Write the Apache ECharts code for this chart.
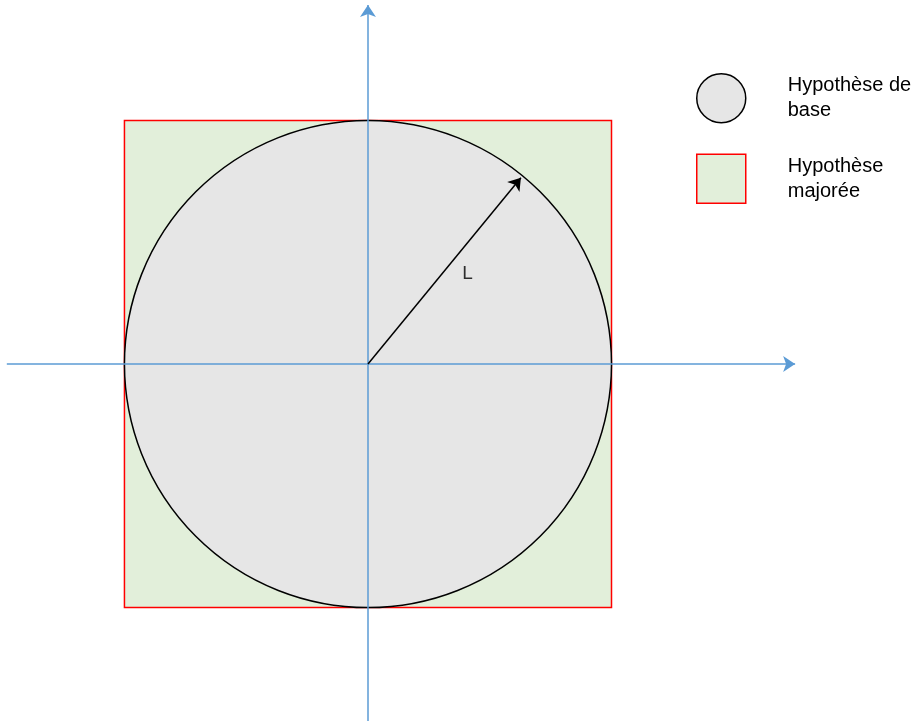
<!DOCTYPE html>
<html>
<head>
<meta charset="utf-8">
<script src="https://cdn.jsdelivr.net/npm/echarts@6/dist/echarts.min.js"></script>
<style>
  html, body { margin: 0; padding: 0; background: #fff; }
  #main { width: 922px; height: 721px; }
</style>
</head>
<body>
<div id="main"></div>
<script>
"use strict"
// data, in units of L (centre of the figure at 0,0)
var legendNames = ['Hypothèse de base', 'Hypothèse majorée'];
var legendLabels = ['Hypothèse de\nbase', 'Hypothèse\nmajorée'];
var circleRadius = [[1]];
var squareHalfSide = [[1]];
var horizAxisLine = [[-1.483, 0], [1.754, 0]];
var vertAxisLine = [[0, -1.47], [0, 1.474]];
var radiusArrow = [[0, 0], [0.628, 0.765]];
var radiusLabel = [[0.409, 0.37, 'L']];

// based on prepared DOM, initialize echarts instance
var myChart = echarts.init(document.getElementById('main'));

var option = {
	animation: false,
	grid: { left: 0, right: 0, top: 0, bottom: 0 },
	xAxis: { type: 'value', min: -1.511, max: 2.275, show: false },
	yAxis: { type: 'value', min: -1.466, max: 1.495, show: false },
	legend: {
		orient: 'vertical',
		left: 696,
		top: 73,
		padding: 0,
		itemWidth: 49,
		itemHeight: 49,
		itemGap: 30,
		selectedMode: false,
		formatter: function (name) {
			return legendLabels[legendNames.indexOf(name)];
		},
		textStyle: {
			fontFamily: 'Liberation Sans',
			fontSize: 20,
			lineHeight: 25,
			color: '#000',
			padding: [0, 0, 0, 37]
		},
		data: [
			{ name: legendNames[0], icon: 'circle',
			  itemStyle: { color: '#e6e6e6', borderColor: '#000', borderWidth: 1.5 } },
			{ name: legendNames[1], icon: 'rect',
			  itemStyle: { color: '#e2efda', borderColor: '#ff0000', borderWidth: 1.5 } }
		]
	},
	series: [
	{
		name: legendNames[1],
		type: 'custom',
		data: squareHalfSide,
		renderItem: function (params, api) {
			var c = api.coord([0, 0]);
			var h = api.size([api.value(0), api.value(0)])[0];
			return {
				type: 'rect',
				shape: { x: c[0] - h, y: c[1] - h, width: 2 * h, height: 2 * h },
				style: { fill: '#e2efda', stroke: '#ff0000', lineWidth: 1.5 }
			};
		},
		z: 1
	},
	{
		name: legendNames[0],
		type: 'custom',
		data: circleRadius,
		renderItem: function (params, api) {
			var c = api.coord([0, 0]);
			var r = api.size([api.value(0), api.value(0)])[0];
			return {
				type: 'circle',
				shape: { cx: c[0], cy: c[1], r: r },
				style: { fill: '#e6e6e6', stroke: '#000', lineWidth: 1.5 }
			};
		},
		z: 2
	},
	{
		type: 'lines',
		coordinateSystem: 'cartesian2d',
		symbol: ['none', 'arrow'],
		symbolSize: 12,
		lineStyle: { color: '#5b9bd5', width: 1.5, opacity: 1 },
		data: [{ coords: horizAxisLine }, { coords: vertAxisLine }],
		z: 3
	},
	{
		type: 'lines',
		coordinateSystem: 'cartesian2d',
		symbol: ['none', 'arrow'],
		symbolSize: 12,
		lineStyle: { color: '#000', width: 1.5, opacity: 1 },
		data: [{ coords: radiusArrow }],
		z: 4
	},
	{
		type: 'scatter',
		data: radiusLabel,
		symbolSize: 0,
		label: {
			show: true,
			position: 'inside',
			formatter: function (p) { return p.value[2]; },
			fontFamily: 'Liberation Sans',
			fontSize: 19,
			color: '#000'
		},
		z: 5
	}
	]
};

// use configuration item and data specified to show chart
if (option && typeof option === "object") {
	myChart.setOption(option, true);
}
</script>
</body>
</html>
